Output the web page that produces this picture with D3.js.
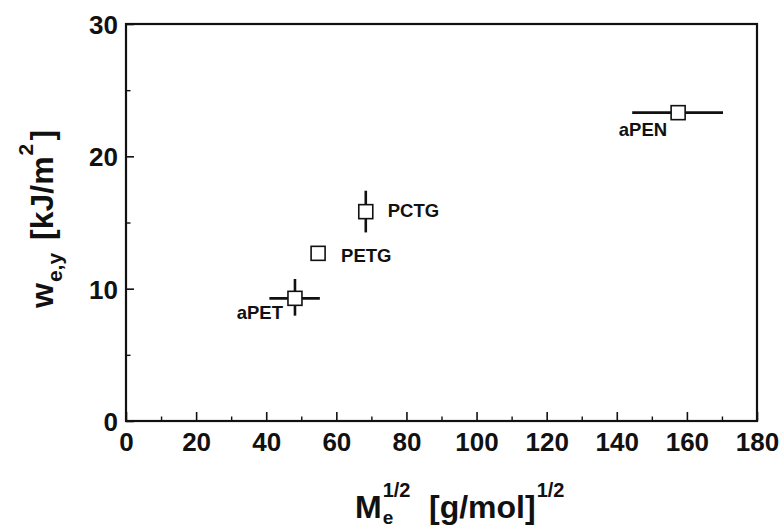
<!DOCTYPE html>
<html lang="en">
<head>
<meta charset="UTF-8">
<title>w_e,y vs Me^1/2</title>
<script src="https://d3js.org/d3.v7.min.js"></script>
<style>
  body { margin: 0; background: #fff; }
  text { font-family: "Liberation Sans", Arial, Helvetica, sans-serif; font-weight: bold; fill: #111; }
  .tick-label { font-family: "Liberation Sans Narrow", "Liberation Sans", Arial, sans-serif; font-size: 26px; }
</style>
</head>
<body>
<svg id="chart" width="780" height="528"></svg>
<script>
// data
const materials = ["aPET", "PETG", "PCTG", "aPEN"];
const meSqrt    = [48.2, 54.8, 68.4, 157.5];   // Me^1/2 [g/mol]^1/2
const wey       = [9.27, 12.67, 15.82, 23.3];  // w_e,y [kJ/m2]
const xErrLo    = [40.9, null, null, 144.4];
const xErrHi    = [55.3, null, null, 170.3];
const yErrLo    = [7.96, null, 14.25, null];
const yErrHi    = [10.73, null, 17.4, null];
const xTicks = [0, 20, 40, 60, 80, 100, 120, 140, 160, 180];
const yTicks = [0, 10, 20, 30];

// label placement relative to the marker (layout only)
const labelOffset = {
  aPET: { dx: -12, dy: 21, anchor: "end" },
  PETG: { dx: 23, dy: 9, anchor: "start" },
  PCTG: { dx: 22, dy: 5, anchor: "start" },
  aPEN: { dx: -11, dy: 23, anchor: "end" }
};

const svg = d3.select("#chart");
const plotL = 126, plotR = 757, plotT = 24, plotB = 421;

const x = d3.scaleLinear().domain([0, 180]).range([plotL, plotR]);
const y = d3.scaleLinear().domain([0, 30]).range([plotB, plotT]);

// frame
svg.append("rect")
  .attr("x", plotL).attr("y", plotT)
  .attr("width", plotR - plotL).attr("height", plotB - plotT)
  .attr("fill", "none").attr("stroke", "#111").attr("stroke-width", 2.2);

// bottom axis, ticks pointing inward
const xAxis = svg.append("g").attr("transform", `translate(0,${plotB})`)
  .call(d3.axisBottom(x).tickValues(xTicks).tickSizeInner(-9).tickSizeOuter(0).tickPadding(20));
xAxis.select(".domain").remove();
xAxis.selectAll(".tick line").attr("stroke", "#111").attr("stroke-width", 1.6);
xAxis.selectAll(".tick text").attr("class", "tick-label").attr("dy", "0.9em").attr("y", 7);
xAxis.attr("font-size", null).attr("font-family", null);
const xMinor = svg.append("g").attr("transform", `translate(0,${plotB})`)
  .call(d3.axisBottom(x).tickValues(d3.range(10, 180, 20)).tickSizeInner(-4.5).tickSizeOuter(0).tickFormat(""));
xMinor.select(".domain").remove();
xMinor.selectAll(".tick line").attr("stroke", "#111").attr("stroke-width", 1.4);

// left axis
const yAxis = svg.append("g").attr("transform", `translate(${plotL},0)`)
  .call(d3.axisLeft(y).tickValues(yTicks).tickSizeInner(-8).tickSizeOuter(0).tickPadding(16));
yAxis.select(".domain").remove();
yAxis.selectAll(".tick line").attr("stroke", "#111").attr("stroke-width", 1.6);
yAxis.selectAll(".tick text").attr("class", "tick-label").attr("x", -8).attr("dy", "0.36em");
yAxis.attr("font-size", null).attr("font-family", null);
const yMinor = svg.append("g").attr("transform", `translate(${plotL},0)`)
  .call(d3.axisLeft(y).tickValues([5, 15, 25]).tickSizeInner(-4.5).tickSizeOuter(0).tickFormat(""));
yMinor.select(".domain").remove();
yMinor.selectAll(".tick line").attr("stroke", "#111").attr("stroke-width", 1.4);

// points
const pts = materials.map((m, i) => ({
  name: m, x: meSqrt[i], y: wey[i],
  xlo: xErrLo[i], xhi: xErrHi[i], ylo: yErrLo[i], yhi: yErrHi[i]
}));

const g = svg.append("g");
g.selectAll(".xerr").data(pts.filter(d => d.xlo != null)).join("line")
  .attr("x1", d => x(d.xlo)).attr("x2", d => x(d.xhi))
  .attr("y1", d => y(d.y)).attr("y2", d => y(d.y))
  .attr("stroke", "#111").attr("stroke-width", 2.6);
g.selectAll(".yerr").data(pts.filter(d => d.ylo != null)).join("line")
  .attr("x1", d => x(d.x)).attr("x2", d => x(d.x))
  .attr("y1", d => y(d.ylo)).attr("y2", d => y(d.yhi))
  .attr("stroke", "#111").attr("stroke-width", 2.6);

const s = 14;
g.selectAll("rect.pt").data(pts).join("rect")
  .attr("class", "pt")
  .attr("x", d => x(d.x) - s / 2).attr("y", d => y(d.y) - s / 2)
  .attr("width", s).attr("height", s)
  .attr("fill", "#fff").attr("stroke", "#111").attr("stroke-width", 1.6);

g.selectAll("text.lbl").data(pts).join("text")
  .attr("class", "lbl")
  .attr("x", d => x(d.x) + labelOffset[d.name].dx)
  .attr("y", d => y(d.y) + labelOffset[d.name].dy)
  .attr("text-anchor", d => labelOffset[d.name].anchor)
  .attr("font-size", 18.5)
  .text(d => d.name);

// x title: M_e^1/2 [g/mol]^1/2
const xt = svg.append("g");
const mT = xt.append("text").attr("x", 355).attr("y", 518).attr("font-size", 32).text("M");
const mW = mT.node().getComputedTextLength();
xt.append("text").attr("x", 355 + mW + 1).attr("y", 497).attr("font-size", 20).text("1/2");
xt.append("text").attr("x", 355 + mW + 1).attr("y", 524).attr("font-size", 19).text("e");
const bT = xt.append("text").attr("x", 429).attr("y", 518).attr("font-size", 32).text("[g/mol]");
const bW = bT.node().getComputedTextLength();
xt.append("text").attr("x", 429 + bW + 1).attr("y", 497).attr("font-size", 20).text("1/2");

// y title: w_e,y [kJ/m^2]
const yt = svg.append("g").attr("transform", "translate(53,308) rotate(-90)");
const wT = yt.append("text").attr("x", 0).attr("y", 0).attr("font-size", 32).text("w");
const wW = wT.node().getComputedTextLength();
yt.append("text").attr("x", wW + 1).attr("y", 9).attr("font-size", 21).text("e,y");
const kT = yt.append("text").attr("x", 68).attr("y", 0).attr("font-size", 32).text("[kJ/m");
const kW = kT.node().getComputedTextLength();
yt.append("text").attr("x", 68 + kW + 1).attr("y", -20).attr("font-size", 21).text("2");
yt.append("text").attr("x", 68 + kW + 16).attr("y", 0).attr("font-size", 32).text("]");
</script>
</body>
</html>
